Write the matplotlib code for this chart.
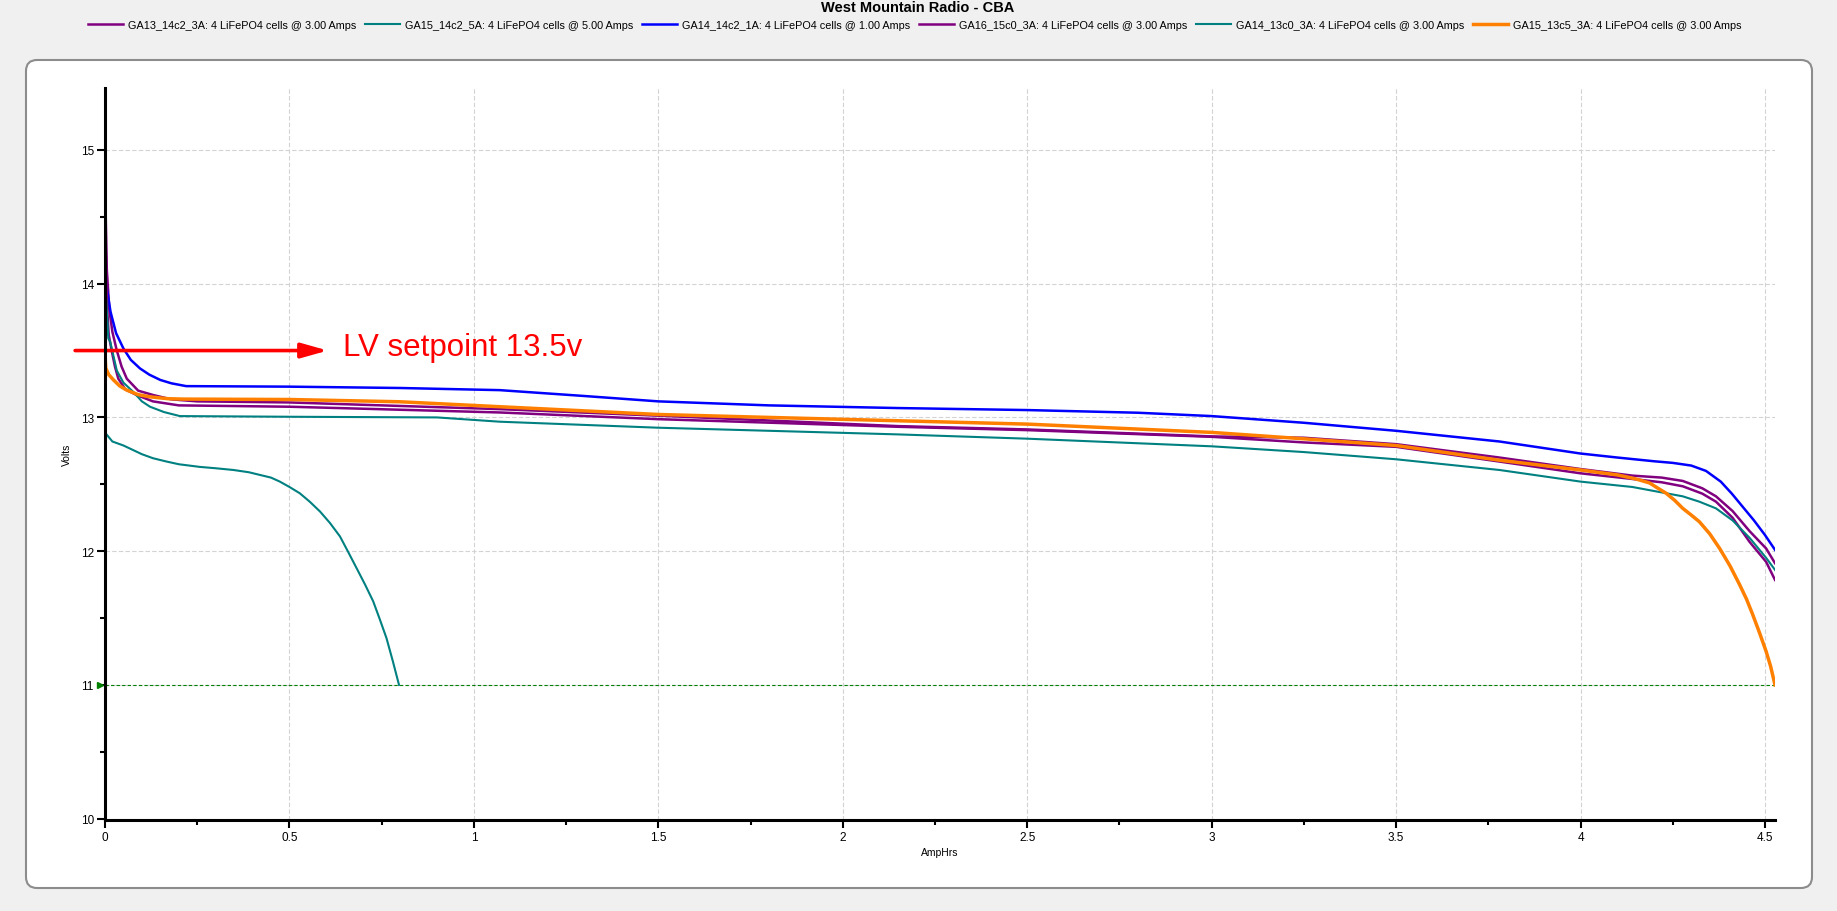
import numpy as np
import matplotlib
matplotlib.use("Agg")
import matplotlib.pyplot as plt
from matplotlib.patches import FancyBboxPatch

plt.rcParams['font.family'] = ['Liberation Sans', 'DejaVu Sans']

# --- data (AmpHrs, Volts) ---
labels = [
    "GA13_14c2_3A: 4 LiFePO4 cells @ 3.00 Amps",
    "GA15_14c2_5A: 4 LiFePO4 cells @ 5.00 Amps",
    "GA14_14c2_1A: 4 LiFePO4 cells @ 1.00 Amps",
    "GA16_15c0_3A: 4 LiFePO4 cells @ 3.00 Amps",
    "GA14_13c0_3A: 4 LiFePO4 cells @ 3.00 Amps",
    "GA15_13c5_3A: 4 LiFePO4 cells @ 3.00 Amps",
]
colors = ["#800080", "#008080", "#0000ff", "#800080", "#008080", "#ff8000"]

ga13_ah = [0, 0.002, 0.005, 0.012, 0.02, 0.032, 0.045, 0.059, 0.09, 0.131, 0.18, 0.25,
           0.5, 1.07, 1.5, 2.15, 2.5, 3.0, 3.25, 3.5, 3.78, 4.0, 4.14, 4.22, 4.277, 4.33,
           4.367, 4.412, 4.458, 4.503, 4.527]
ga13_v = [14.96, 14.5, 14.1, 13.8, 13.64, 13.5, 13.38, 13.29, 13.2, 13.167, 13.135, 13.12,
          13.112, 13.062, 13.013, 12.935, 12.91, 12.858, 12.848, 12.80, 12.70, 12.614, 12.565,
          12.55, 12.525, 12.47, 12.41, 12.30, 12.15, 12.02, 11.91]

ga15_5a_ah = [0, 0.002, 0.02, 0.05, 0.077, 0.1, 0.13, 0.167, 0.2, 0.257, 0.3, 0.348, 0.39,
              0.42, 0.45, 0.474, 0.5, 0.528, 0.555, 0.583, 0.61, 0.637, 0.66, 0.682, 0.705,
              0.727, 0.745, 0.763, 0.78, 0.797]
ga15_5a_v = [12.99, 12.88, 12.82, 12.79, 12.755, 12.725, 12.695, 12.67, 12.65, 12.63, 12.62,
             12.607, 12.59, 12.57, 12.55, 12.52, 12.48, 12.433, 12.37, 12.296, 12.21, 12.11,
             11.99, 11.873, 11.75, 11.625, 11.49, 11.35, 11.18, 11.0]

ga14_1a_ah = [0, 0.003, 0.015, 0.03, 0.05, 0.07, 0.095, 0.12, 0.15, 0.18, 0.22, 0.5, 0.8,
              1.07, 1.3, 1.5, 1.8, 2.15, 2.5, 2.8, 3.0, 3.25, 3.5, 3.78, 4.0, 4.1, 4.2,
              4.25, 4.3, 4.34, 4.38, 4.41, 4.44, 4.47, 4.5, 4.527]
ga14_1a_v = [14.19, 14.0, 13.79, 13.63, 13.515, 13.43, 13.366, 13.32, 13.28, 13.255, 13.234,
             13.23, 13.22, 13.204, 13.16, 13.12, 13.09, 13.07, 13.055, 13.035, 13.01, 12.96,
             12.90, 12.82, 12.73, 12.70, 12.672, 12.66, 12.64, 12.60, 12.52, 12.43, 12.33,
             12.23, 12.12, 12.01]

ga16_ah = [0, 0.003, 0.006, 0.01, 0.018, 0.027, 0.036, 0.055, 0.086, 0.13, 0.2, 0.5, 1.07,
           1.5, 2.15, 2.5, 3.0, 3.25, 3.5, 3.78, 4.0, 4.14, 4.22, 4.277, 4.33, 4.367, 4.412,
           4.458, 4.503, 4.527]
ga16_v = [14.47, 14.13, 13.8, 13.62, 13.5, 13.38, 13.29, 13.21, 13.167, 13.12, 13.09, 13.08,
          13.037, 12.987, 12.93, 12.905, 12.855, 12.813, 12.78, 12.67, 12.582, 12.54, 12.515,
          12.485, 12.43, 12.37, 12.25, 12.07, 11.92, 11.785]

ga14_13c0_ah = [0, 0.003, 0.009, 0.014, 0.032, 0.05, 0.077, 0.1, 0.122, 0.16, 0.203, 0.5,
                0.9, 1.07, 1.5, 1.8, 2.15, 2.5, 3.0, 3.25, 3.5, 3.78, 4.0, 4.14, 4.232,
                4.277, 4.322, 4.367, 4.412, 4.458, 4.503, 4.527]
ga14_13c0_v = [13.95, 13.89, 13.59, 13.567, 13.35, 13.26, 13.19, 13.12, 13.08, 13.04, 13.01,
               13.005, 13.0, 12.968, 12.923, 12.9, 12.873, 12.841, 12.784, 12.741, 12.687,
               12.607, 12.52, 12.48, 12.433, 12.41, 12.37, 12.32, 12.23, 12.10, 11.95, 11.86]

ga15_13c5_ah = [0, 0.002, 0.01, 0.023, 0.04, 0.059, 0.09, 0.122, 0.17, 0.212, 0.5, 0.8,
                1.07, 1.5, 1.8, 2.15, 2.5, 3.0, 3.25, 3.5, 3.78, 4.0, 4.1, 4.15, 4.187, 4.21,
                4.232, 4.255, 4.277, 4.3, 4.322, 4.35, 4.377, 4.405, 4.431, 4.45, 4.466,
                4.485, 4.503, 4.515, 4.527]
ga15_13c5_v = [13.48, 13.37, 13.32, 13.28, 13.235, 13.204, 13.17, 13.154, 13.14, 13.137,
               13.134, 13.117, 13.08, 13.022, 13.0, 12.975, 12.95, 12.888, 12.84, 12.79,
               12.68, 12.607, 12.57, 12.54, 12.51, 12.47, 12.433, 12.38, 12.32, 12.27, 12.22,
               12.13, 12.02, 11.89, 11.75, 11.64, 11.53, 11.39, 11.25, 11.14, 11.0]

xs = [ga13_ah, ga15_5a_ah, ga14_1a_ah, ga16_ah, ga14_13c0_ah, ga15_13c5_ah]
ys = [ga13_v, ga15_5a_v, ga14_1a_v, ga16_v, ga14_13c0_v, ga15_13c5_v]
widths = [1.8, 1.5, 1.8, 1.8, 1.5, 2.5]

x_ticks = [0, 0.5, 1, 1.5, 2, 2.5, 3, 3.5, 4, 4.5]
x_ticklabels = ["0", "0.5", "1", "1.5", "2", "2.5", "3", "3.5", "4", "4.5"]
y_ticks = [10, 11, 12, 13, 14, 15]
y_ticklabels = ["10", "11", "12", "13", "14", "15"]

cutoff_v = 11.0
lv_setpoint = 13.5

# --- figure ---
W, H = 1837, 912
fig = plt.figure(figsize=(W / 100, H / 100), dpi=100, facecolor="#f0f0f0")

# white rounded panel behind the plot
panel = FancyBboxPatch((26 / W, 1 - 889 / H), (1812 - 26) / W, (889 - 61) / H,
                       boxstyle="round,pad=0,rounding_size=0.006",
                       mutation_aspect=W / H, transform=fig.transFigure,
                       facecolor="white", edgecolor="#8c8c8c", linewidth=1.5, zorder=-1)
fig.patches.append(panel)

ax = fig.add_axes([105 / W, 1 - 821 / H, (1775 - 105) / W, (821 - 89) / H])
ax.patch.set_visible(False)

lines = []
for x, y, c, lw, lab in zip(xs, ys, colors, widths, labels):
    ln, = ax.plot(x, y, color=c, lw=lw, label=lab)
    lines.append(ln)

# cutoff line with marker
ax.axhline(cutoff_v, color="#008000", lw=0.8, linestyle=(0, (3, 2)), zorder=1)
ax.plot([-0.003], [cutoff_v], marker=">", color="#008000", markersize=4,
        transform=ax.get_yaxis_transform(), clip_on=False)

# LV setpoint arrow
ax.annotate("", xy=(0.604, lv_setpoint), xytext=(-0.081, lv_setpoint),
            arrowprops=dict(arrowstyle="-|>,head_length=1.6,head_width=0.45",
                            color="#ff0000", lw=2.6, shrinkA=0, shrinkB=0),
            annotation_clip=False)
ax.annotate("LV setpoint 13.5v", xy=(0.604, lv_setpoint), xytext=(11, -3.5),
            textcoords="offset points", va="baseline", ha="left",
            color="#ff0000", fontsize=22.5)

ax.set_xlim(0, 4.527)
ax.set_ylim(9.99, 15.463)

ax.set_xticks(x_ticks)
ax.set_xticklabels(x_ticklabels)
ax.set_xticks(np.arange(0.25, 4.5, 0.5), minor=True)
ax.set_yticks(y_ticks)
ax.set_yticklabels(y_ticklabels)
ax.set_yticks(np.arange(10.5, 15.1, 1.0), minor=True)

for s in ["top", "right"]:
    ax.spines[s].set_visible(False)
for s in ["left", "bottom"]:
    ax.spines[s].set_linewidth(2.2)
    ax.spines[s].set_zorder(3)

ax.tick_params(which="major", length=6, width=1.5, labelsize=8.5, pad=2)
ax.tick_params(which="minor", length=3.6, width=1.5)
ax.grid(which="major", color="#d3d3d3", linestyle=(0, (4, 2)), lw=0.8)
ax.set_axisbelow(True)

ax.set_xlabel("AmpHrs", fontsize=7.5, labelpad=3)
ax.set_ylabel("Volts", fontsize=7.5, labelpad=6)

fig.text(918 / W, 1 - 8 / H, "West Mountain Radio - CBA", ha="center", va="center",
         fontsize=10.5, fontweight="bold")

fig.legend(handles=lines, labels=labels, loc="center", bbox_to_anchor=(0.498, 1 - 26 / H),
           ncol=6, frameon=False, fontsize=7.8, handlelength=3.2, handletextpad=0.5,
           columnspacing=0.8, borderaxespad=0)

fig.savefig("out.png", dpi=100, facecolor=fig.get_facecolor())
